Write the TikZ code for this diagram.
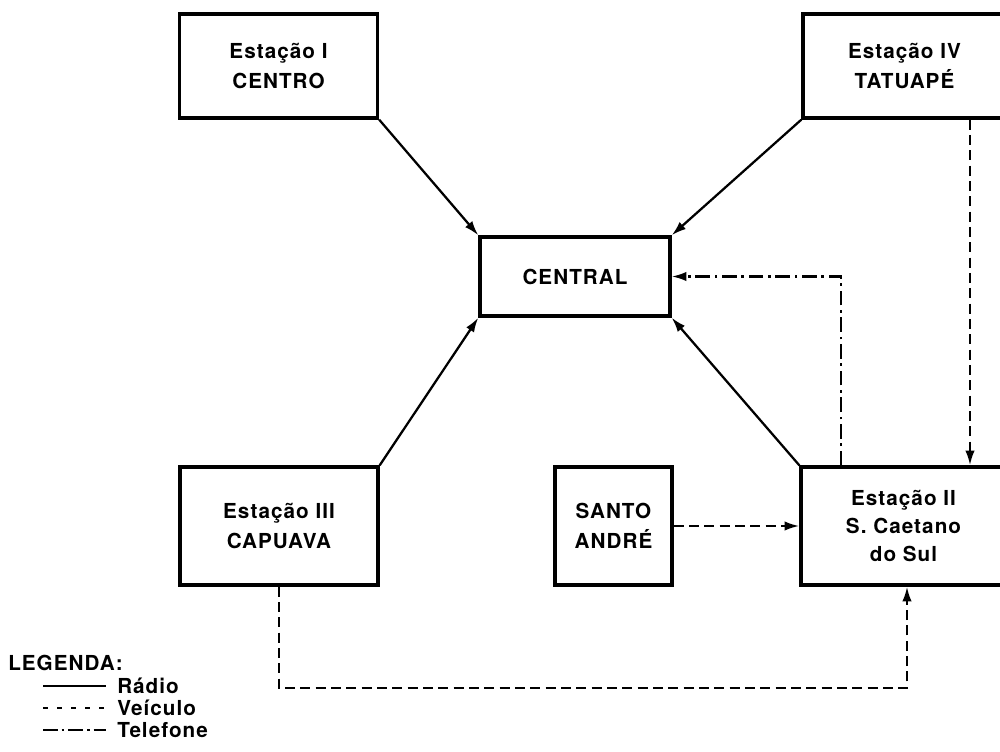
\documentclass[tikz,border=0pt]{standalone}
\usepackage{fontspec}
\setmainfont{TeX Gyre Heros}[LetterSpace=5]
\usetikzlibrary{arrows.meta}
\begin{document}
\begin{tikzpicture}[x=0.75pt,y=-0.75pt,
  font=\fontsize{15.5}{18}\selectfont\bfseries,
  box/.style={draw,line width=2.5pt,inner sep=0pt,align=center},
  radio/.style={line width=1.7pt,-{Latex[length=11pt,width=7pt]}},
  veic/.style={line width=1.7pt,dash pattern=on 7.5pt off 4pt,-{Latex[length=11pt,width=7pt]}},
  tel/.style={line width=1.7pt,dash pattern=on 11pt off 3.5pt on 2pt off 3.5pt,-{Latex[length=11pt,width=7pt]}},
  lg/.style={line width=1.4pt},
  lgtext/.style={anchor=west,inner sep=0pt}]
\useasboundingbox (0,0) rectangle (1000,752);
\clip (0,0) rectangle (1000,752);
% boxes
\node[box,minimum width=198*0.75pt,minimum height=104*0.75pt] (e1) at (278.5,66) {Estação I\\[4pt]CENTRO};
\node[box,minimum width=203*0.75pt,minimum height=104*0.75pt] (e4) at (904.5,66) {Estação IV\\[4pt]TATUAPÉ};
\node[box,minimum width=190*0.75pt,minimum height=79*0.75pt] (c) at (575,276.5) {CENTRAL};
\node[box,minimum width=198*0.75pt,minimum height=118*0.75pt] (e3) at (279,526) {Estação III\\[4pt]CAPUAVA};
\node[box,minimum width=117*0.75pt,minimum height=118*0.75pt] (sa) at (613.5,526) {SANTO\\[4pt]ANDRÉ};
\node[box,minimum width=205*0.75pt,minimum height=118*0.75pt] (e2) at (903.5,526) {Estação II\\[3pt]S. Caetano\\[3pt]do Sul};
% helper coordinates
\coordinate (x970) at (970,0);
\coordinate (x841) at (841,0);
\coordinate (b) at (907,688);
% radio links
\draw[radio] (e1.south east) -- (c.north west);
\draw[radio] (e4.south west) -- (c.north east);
\draw[radio] (e3.north east) -- (c.south west);
\draw[radio] (e2.north west) -- (c.south east);
% vehicle links
\draw[veic] (sa.east) -- (e2.west);
\draw[veic] (e4.south -| x970) -- (e2.north -| x970);
\draw[veic] (e3.south) |- (b) -- (e2.south -| b);
% telephone
\draw[tel] (e2.north -| x841) |- (c.east);
% legend
\node[lgtext] (leg) at (8,663) {LEGENDA:};
\coordinate (l1a) at (43,686); \coordinate (l1b) at (106,686);
\coordinate (l2a) at (43,708); \coordinate (l2b) at (106,708);
\coordinate (l3a) at (43,730); \coordinate (l3b) at (106,730);
\draw[lg] (l1a) -- (l1b);
\draw[lg,dash pattern=on 4pt off 6.5pt] (l2a) -- (l2b);
\draw[lg,dash pattern=on 11pt off 3pt on 2pt off 3pt] (l3a) -- (l3b);
\node[lgtext] (t1) at (117,686) {Rádio};
\node[lgtext] (t2) at (117,708) {Veículo};
\node[lgtext] (t3) at (117,730) {Telefone};
\end{tikzpicture}
\end{document}
